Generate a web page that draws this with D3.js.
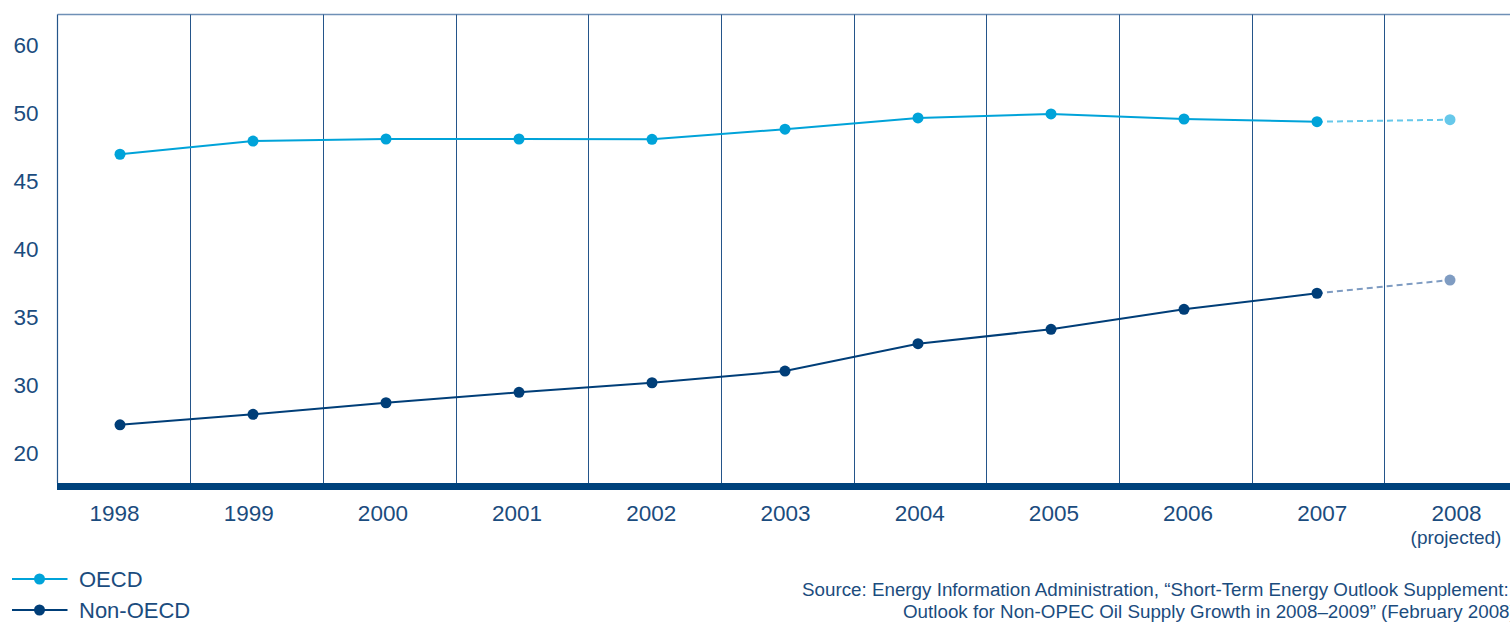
<!DOCTYPE html>
<html>
<head>
<meta charset="utf-8">
<script src="https://cdn.jsdelivr.net/npm/d3@7"></script>
<style>
  html, body { margin: 0; padding: 0; background: #ffffff; overflow: hidden; }
  svg { display: block; font-family: "Liberation Sans", Arial, Helvetica, sans-serif; }
</style>
</head>
<body>
<svg id="chart" width="1510" height="622"></svg>
<script>
// Oil consumption, million barrels per day
const years = ["1998", "1999", "2000", "2001", "2002", "2003", "2004", "2005", "2006", "2007", "2008"];
const oecd = [47.04, 48.01, 48.16, 48.16, 48.14, 48.88, 49.71, 50.0, 49.63, 49.43, 49.58];
const nonOecd = [27.15, 27.92, 28.77, 29.54, 30.24, 31.10, 33.11, 34.17, 35.64, 36.82, 37.79];
const projectedYear = "2008";
const yTickValues = [55, 50, 45, 40, 35, 30, 25];
const yTickLabels = ["60", "50", "45", "40", "35", "30", "20"];
const seriesNames = ["OECD", "Non-OECD"];
const sourceLines = [
  "Source: Energy Information Administration, \u201cShort-Term Energy Outlook Supplement: ",
  "Outlook for Non-OPEC Oil Supply Growth in 2008\u20132009\u201d (February 2008)."
];

const colors = {
  oecd: "#00a3d9",
  oecdProj: "#66c8ea",
  non: "#003e78",
  nonProj: "#7f9cc2",
  text: "#1b4c7e",
  grid: "#24558a",
  frame: "#6f90b6",
  base: "#00427c"
};

const svg = d3.select("#chart");
const plot = { left: 57.5, top: 14.5, bottom: 483, right: 1510 };

const y = d3.scaleLinear().domain([22.87, 57.35]).range([plot.bottom, plot.top - 0.5]);
const xPoint = d3.scalePoint().domain(years).range([120, 1450]);
const xBand = d3.scaleBand().domain(years).range([plot.left, plot.left + 11 * 132.67]);
const xLabel = d3.scalePoint().domain(years).range([114, 1456]);

// frame: left edge and top edge
svg.append("line")
  .attr("x1", plot.left).attr("x2", plot.right)
  .attr("y1", plot.top).attr("y2", plot.top)
  .attr("stroke", colors.frame).attr("stroke-width", 1.3);
svg.append("line")
  .attr("x1", plot.left).attr("x2", plot.left)
  .attr("y1", plot.top).attr("y2", plot.bottom)
  .attr("stroke", colors.grid).attr("stroke-width", 1.2);

// year dividers
svg.append("g").selectAll("line")
  .data(years.slice(1))
  .join("line")
  .attr("x1", d => Math.round(xBand(d)) + 0.5)
  .attr("x2", d => Math.round(xBand(d)) + 0.5)
  .attr("y1", plot.top).attr("y2", plot.bottom)
  .attr("stroke", colors.grid).attr("stroke-width", 1);

// baseline bar
svg.append("rect")
  .attr("x", plot.left - 0.5).attr("y", plot.bottom)
  .attr("width", plot.right - plot.left + 1).attr("height", 7)
  .attr("fill", colors.base);

// y axis labels
const yAxis = d3.axisLeft(y)
  .tickValues(yTickValues)
  .tickSize(0)
  .tickPadding(0)
  .tickFormat((d, i) => yTickLabels[i]);
svg.append("g")
  .attr("transform", "translate(38.5,0)")
  .call(yAxis)
  .call(g => g.select(".domain").remove())
  .call(g => g.selectAll("text")
    .attr("fill", colors.text)
    .attr("font-size", 22.5)
    .attr("font-family", "Liberation Sans, Arial, sans-serif")
    .attr("dy", "0.3em"));

// x axis labels
const xAxis = d3.axisBottom(xLabel).tickSize(0).tickPadding(0);
svg.append("g")
  .attr("transform", "translate(0,505)")
  .call(xAxis)
  .call(g => g.select(".domain").remove())
  .call(g => g.selectAll("text")
    .attr("fill", colors.text)
    .attr("font-size", 22.5)
    .attr("font-family", "Liberation Sans, Arial, sans-serif")
    .attr("dy", "0.72em"));
svg.append("text")
  .attr("x", xLabel(projectedYear))
  .attr("y", 544)
  .attr("text-anchor", "middle")
  .attr("fill", colors.text)
  .attr("font-size", 19)
  .text("(projected)");

// series
const series = [
  { values: oecd, color: colors.oecd, proj: colors.oecdProj },
  { values: nonOecd, color: colors.non, proj: colors.nonProj }
];
const line = d3.line().x(d => xPoint(d.year)).y(d => y(d.value));

series.forEach(s => {
  const pts = years.map((yr, i) => ({ year: yr, value: s.values[i] }));
  const actual = pts.filter(p => p.year !== projectedYear);
  const projIdx = years.indexOf(projectedYear);
  const proj = [pts[projIdx - 1], pts[projIdx]];

  svg.append("path")
    .attr("d", line(proj))
    .attr("fill", "none")
    .attr("stroke", s.proj)
    .attr("stroke-width", 2)
    .attr("stroke-dasharray", "6,4");
  svg.append("path")
    .attr("d", line(actual))
    .attr("fill", "none")
    .attr("stroke", s.color)
    .attr("stroke-width", 2);
  svg.append("g").selectAll("circle")
    .data(pts)
    .join("circle")
    .attr("cx", d => xPoint(d.year))
    .attr("cy", d => y(d.value))
    .attr("r", 5.5)
    .attr("fill", d => d.year === projectedYear ? s.proj : s.color);
});

// legend
const legend = svg.append("g");
seriesNames.forEach((name, i) => {
  const ly = 579 + i * 31;
  const c = series[i].color;
  legend.append("line")
    .attr("x1", 12).attr("x2", 67.5)
    .attr("y1", ly).attr("y2", ly)
    .attr("stroke", c).attr("stroke-width", 2);
  legend.append("circle")
    .attr("cx", 39.5).attr("cy", ly).attr("r", 5.5).attr("fill", c);
  legend.append("text")
    .attr("x", 79).attr("y", ly + 8)
    .attr("fill", colors.text)
    .attr("font-size", 22)
    .text(name);
});

// source note, running past the right edge
svg.append("g").selectAll("text")
  .data(sourceLines)
  .join("text")
  .attr("x", (d, i) => i === 0 ? 802 : 903)
  .attr("y", (d, i) => 596 + i * 22)
  .attr("fill", colors.text)
  .attr("font-size", 18.8)
  .text(d => d);
</script>
</body>
</html>
